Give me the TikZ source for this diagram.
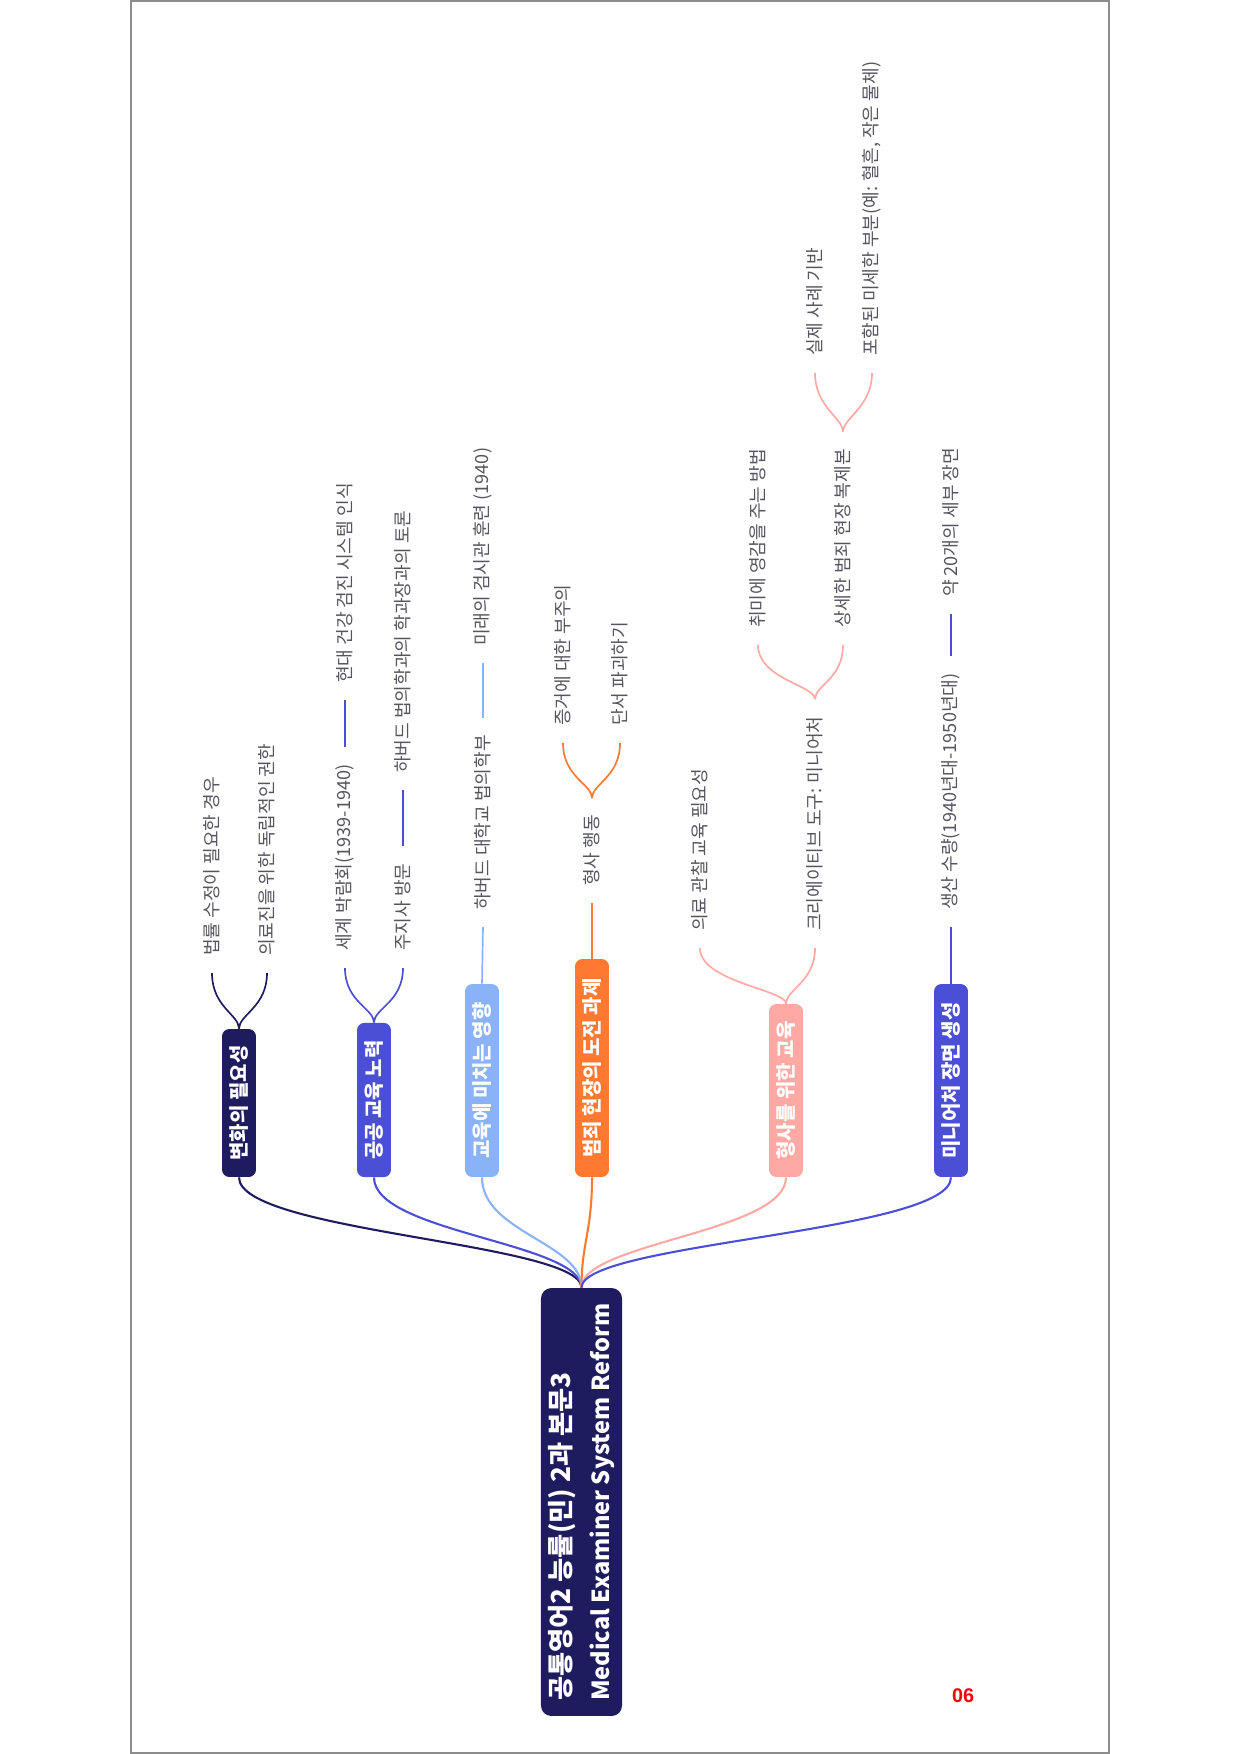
\documentclass[tikz,border=0pt]{standalone}
\usepackage{fontspec}
\setmainfont{Noto Sans CJK KR}
\newfontfamily\pagefont{Liberation Sans}
\usetikzlibrary{calc}
\definecolor{cnavy}{HTML}{1E1B5E}
\definecolor{cblue}{HTML}{4A4FD6}
\definecolor{clight}{HTML}{8AB2F6}
\definecolor{corange}{HTML}{FF7A30}
\definecolor{cpink}{HTML}{FFA9A4}
\definecolor{lblgray}{HTML}{55555F}
\definecolor{framegray}{HTML}{8C8C8C}
\begin{document}
\begin{tikzpicture}[x=0.48pt,y=-0.48pt,
  rootbox/.style={rotate=90, fill=cnavy, rounded corners=5pt, inner sep=0pt, text=white, align=left,
    font=\fontsize{12.6}{19}\selectfont\bfseries},
  branch/.style={rotate=90, rounded corners=3.5pt, inner xsep=0pt, inner ysep=0pt, minimum height=16.3pt,
    text=white, font=\fontsize{9.6}{10}\selectfont\bfseries},
  lbl/.style={rotate=90, anchor=west, inner xsep=8pt, inner ysep=1pt, text=lblgray,
    font=\fontsize{8.7}{10}\selectfont},
  rootedge/.style={line width=1pt},
  kid/.style={line width=0.8pt}]
\path[use as bounding box] (0,0) rectangle (1240,1754);
\draw[framegray, line width=0.7pt] (131,1) rectangle (1109,1753);

% root
\node[rootbox, minimum width=205.4pt, minimum height=38.9pt] (root) at (581.5,1502)
  {공통영어2 능률(민) 2과 본문3\\[0pt]{\fontsize{11.3}{19}\selectfont Medical Examiner System Reform}};

% branches
\node[branch, fill=cnavy, minimum width=71pt] (b1) at (239,1103) {변화의 필요성};
\node[branch, fill=cblue, minimum width=74pt] (b2) at (374,1100) {공공 교육 노력};
\node[branch, fill=clight, minimum width=92.6pt] (b3) at (482,1080.5) {교육에 미치는 영향};
\node[branch, fill=corange, minimum width=104.6pt] (b4) at (592,1068) {범죄 현장의 도전 과제};
\node[branch, fill=cpink, minimum width=83pt] (b5) at (786,1090.5) {형사를 위한 교육};
\node[branch, fill=cblue, minimum width=92.6pt] (b6) at (951,1080.5) {미니어처 장면 생성};

\foreach \b/\c in {b1/cnavy, b2/cblue, b3/clight, b4/corange, b5/cpink, b6/cblue}
  \draw[rootedge, \c] (root.east) .. controls +(0,-45) and +(0,55) .. (\b.west);

% branch 1
\node[lbl] (l1a) at (212,973) {법률 수정이 필요한 경우};
\node[lbl] (l1b) at (267,973) {의료진을 위한 독립적인 권한};
\draw[kid, cnavy] (b1.east) .. controls +(0,-14) and +(0,34) .. (l1a.west);
\draw[kid, cnavy] (b1.east) .. controls +(0,-14) and +(0,34) .. (l1b.west);

% branch 2
\node[lbl] (l2a) at (345,968) {세계 박람회(1939-1940)};
\node[lbl] (l2b) at (403,968) {주지사 방문};
\node[lbl] (l2a1) at (345,700) {현대 건강 검진 시스템 인식};
\node[lbl] (l2b1) at (403,790) {하버드 법의학과의 학과장과의 토론};
\draw[kid, cblue] (b2.east) .. controls +(0,-14) and +(0,34) .. (l2a.west);
\draw[kid, cblue] (b2.east) .. controls +(0,-14) and +(0,34) .. (l2b.west);
\draw[kid, cblue] (l2a.east) -- (l2a1.west);
\draw[kid, cblue] (l2b.east) -- (l2b1.west);

% branch 3
\node[lbl] (l3a) at (483,927) {하버드 대학교 법의학부};
\node[lbl] (l3b) at (483,663) {미래의 검시관 훈련 (1940)};
\draw[kid, clight] (b3.east) -- (l3a.west);
\draw[kid, clight] (l3a.east) -- (l3b.west);

% branch 4
\node[lbl] (l4a) at (592,903) {형사 행동};
\node[lbl] (l4a1) at (563,743) {증거에 대한 부주의};
\node[lbl] (l4a2) at (620,743) {단서 파괴하기};
\draw[kid, corange] (b4.east) -- (l4a.west);
\draw[kid, corange] (l4a.east) .. controls +(0,-14) and +(0,34) .. (l4a1.west);
\draw[kid, corange] (l4a.east) .. controls +(0,-14) and +(0,34) .. (l4a2.west);

% branch 5
\node[lbl] (l5a) at (700,948) {의료 관찰 교육 필요성};
\node[lbl] (l5b) at (815,948) {크리에이티브 도구: 미니어처};
\node[lbl] (l5b1) at (758,645) {취미에 영감을 주는 방법};
\node[lbl] (l5b2) at (843,645) {상세한 범죄 현장 복제본};
\node[lbl] (l5c1) at (815,373) {실제 사례 기반};
\node[lbl] (l5c2) at (872,373) {포함된 미세한 부분(예: 혈흔, 작은 물체)};
\draw[kid, cpink] (b5.east) .. controls +(0,-14) and +(0,34) .. (l5a.west);
\draw[kid, cpink] (b5.east) .. controls +(0,-14) and +(0,34) .. (l5b.west);
\draw[kid, cpink] (l5b.east) .. controls +(0,-14) and +(0,34) .. (l5b1.west);
\draw[kid, cpink] (l5b.east) .. controls +(0,-14) and +(0,34) .. (l5b2.west);
\draw[kid, cpink] (l5b2.east) .. controls +(0,-14) and +(0,34) .. (l5c1.west);
\draw[kid, cpink] (l5b2.east) .. controls +(0,-14) and +(0,34) .. (l5c2.west);

% branch 6
\node[lbl] (l6a) at (951,927) {생산 수량(1940년대-1950년대)};
\node[lbl] (l6b) at (951,614) {약 20개의 세부 장면};
\draw[kid, cblue] (b6.east) -- (l6a.west);
\draw[kid, cblue] (l6a.east) -- (l6b.west);

% page number
\node[text=red, inner sep=0pt, font=\pagefont\bfseries\fontsize{9.5}{10}\selectfont] (pg) at (963,1696) {06};
\end{tikzpicture}
\end{document}
